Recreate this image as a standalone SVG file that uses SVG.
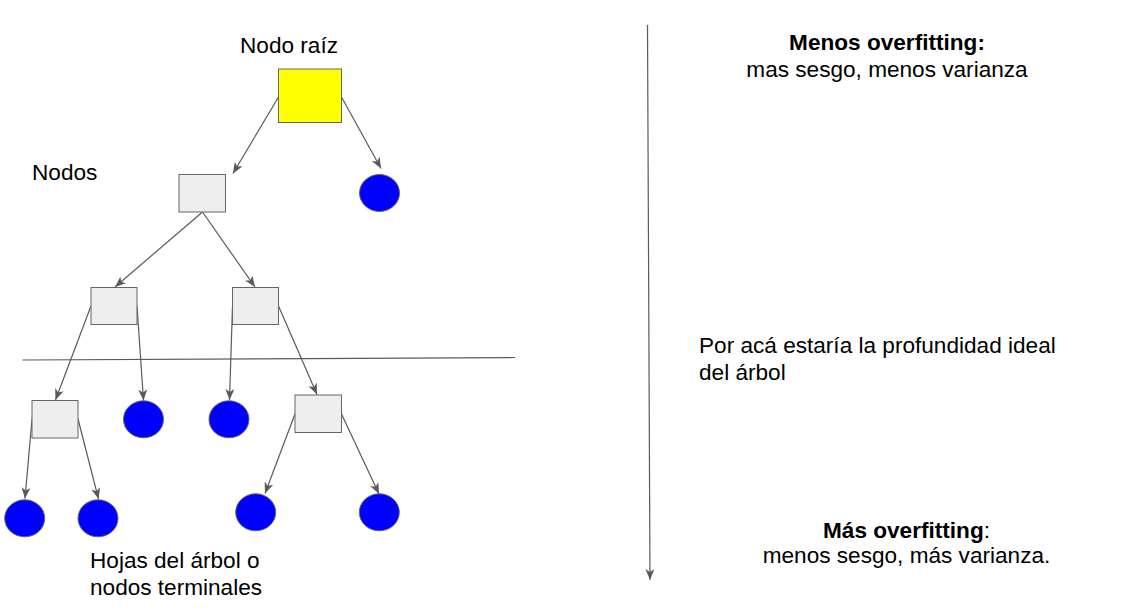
<svg xmlns="http://www.w3.org/2000/svg" width="1121" height="611" viewBox="0 0 1121 611">
<style>
  text { font-family: "Liberation Sans", Arial, sans-serif; font-size: 22.6px; fill: #000; }
  .b { font-weight: bold; }
  .sq { fill: #eeeeee; stroke: #666666; stroke-width: 1; }
  .root { fill: #ffff00; stroke: #666666; stroke-width: 1; }
  .leaf { fill: #0000ff; stroke: #666666; stroke-width: 1; }
  .edge { stroke: #5a5a5a; stroke-width: 1.2; fill: none; marker-end: url(#arr); }
  .line { stroke: #5a5a5a; stroke-width: 1.2; fill: none; }
</style>
<defs>
  <marker id="arr" markerUnits="userSpaceOnUse" markerWidth="14" markerHeight="12" refX="11" refY="4.5" orient="auto">
    <path d="M0,0 L11,4.5 L0,9 L3,4.5 Z" fill="#5a5a5a"/>
  </marker>
</defs>
<rect width="1121" height="611" fill="#ffffff"/>

<g id="connectors">
  <line class="edge" x1="278.5" y1="97" x2="233" y2="173.5"/>
  <line class="edge" x1="341.5" y1="97" x2="381" y2="168.5"/>
  <line class="edge" x1="202.5" y1="212" x2="115" y2="287"/>
  <line class="edge" x1="202.5" y1="212" x2="255" y2="287"/>
  <line class="edge" x1="91" y1="306" x2="55.5" y2="400"/>
  <line class="edge" x1="137" y1="306" x2="143.5" y2="400.5"/>
  <line class="edge" x1="232.5" y1="306" x2="229.5" y2="400"/>
  <line class="edge" x1="278.5" y1="306" x2="317" y2="394.5"/>
  <line class="edge" x1="32" y1="419" x2="25" y2="498.5"/>
  <line class="edge" x1="78" y1="419" x2="98.5" y2="499"/>
  <line class="edge" x1="295" y1="414" x2="265" y2="493.5"/>
  <line class="edge" x1="341.5" y1="414" x2="379" y2="494"/>
  <line class="edge" x1="647.5" y1="25" x2="650" y2="580"/>
  <line class="line" x1="22.5" y1="360" x2="515" y2="357.5"/>
</g>

<g id="root"><rect class="root" x="278.5" y="69" width="63" height="53.5"/></g>
<g id="nodeA"><rect class="sq" x="179" y="174.5" width="46.5" height="37.5"/></g>
<g id="nodeB"><rect class="sq" x="91" y="287.5" width="46" height="37"/></g>
<g id="nodeC"><rect class="sq" x="232.5" y="287.5" width="46" height="37"/></g>
<g id="nodeD"><rect class="sq" x="32" y="400.5" width="46" height="37.5"/></g>
<g id="nodeE"><rect class="sq" x="295" y="395" width="46.5" height="37.5"/></g>

<g id="leaf1"><ellipse class="leaf" cx="379.5" cy="193" rx="20" ry="18.5"/></g>
<g id="leaf2"><ellipse class="leaf" cx="143.5" cy="419.3" rx="20" ry="18.5"/></g>
<g id="leaf3"><ellipse class="leaf" cx="229" cy="419.3" rx="20" ry="18.5"/></g>
<g id="leaf4"><ellipse class="leaf" cx="24.7" cy="518.3" rx="20" ry="18.5"/></g>
<g id="leaf5"><ellipse class="leaf" cx="98" cy="518.3" rx="20" ry="18.5"/></g>
<g id="leaf6"><ellipse class="leaf" cx="255.7" cy="512.3" rx="20" ry="18.5"/></g>
<g id="leaf7"><ellipse class="leaf" cx="379.3" cy="512.3" rx="20" ry="18.5"/></g>

<g id="labels">
  <text x="240" y="53">Nodo raíz</text>
  <text x="32" y="180">Nodos</text>
  <text x="90" y="568">Hojas del árbol o</text>
  <text x="90" y="595">nodos terminales</text>
  <text x="887" y="49.5" text-anchor="middle" class="b">Menos overfitting:</text>
  <text x="887" y="76.5" text-anchor="middle">mas sesgo, menos varianza</text>
  <text x="699" y="353">Por acá estaría la profundidad ideal</text>
  <text x="699" y="380">del árbol</text>
  <text x="906.5" y="538" text-anchor="middle"><tspan class="b">Más overfitting</tspan>:</text>
  <text x="906.5" y="563" text-anchor="middle">menos sesgo, más varianza.</text>
</g>
</svg>
